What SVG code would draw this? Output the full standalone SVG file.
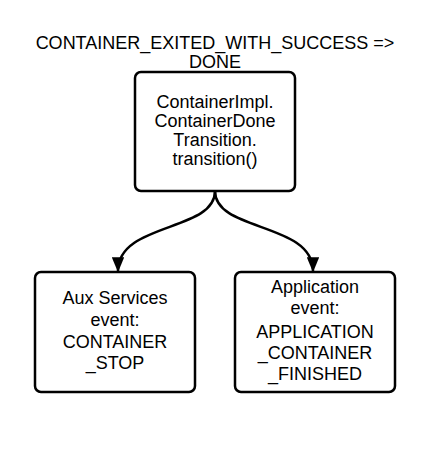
<svg xmlns="http://www.w3.org/2000/svg" width="437" height="449" viewBox="0 0 437 449">
<style>
text{font-family:"Liberation Sans",Arial,sans-serif;font-size:18px;fill:#000;text-anchor:middle}
.box{fill:#fff;stroke:#000;stroke-width:2.5}
.edge{fill:none;stroke:#000;stroke-width:2.5}
</style>
<defs>
<marker id="arr" viewBox="0 0 12 10" refX="11" refY="5" markerWidth="6" markerHeight="5" markerUnits="strokeWidth" orient="auto">
<path d="M0,0 L12,5 L0,10 z" fill="#000"/>
</marker>
</defs>
<rect width="437" height="449" fill="#fff"/>
<g id="title">
<text x="215" y="49">CONTAINER_EXITED_WITH_SUCCESS =&gt;</text>
<text x="215" y="68">DONE</text>
</g>
<g id="edges">
<path class="edge" d="M215,191 C215,232 118,222 118,271" marker-end="url(#arr)"/>
<path class="edge" d="M215,191 C215,232 313,222 313,271" marker-end="url(#arr)"/>
</g>
<g id="n1">
<rect class="box" x="135" y="72" width="160" height="119" rx="6"/>
<text x="215" y="108">ContainerImpl.</text>
<text x="215" y="127">ContainerDone</text>
<text x="215" y="146">Transition.</text>
<text x="215" y="165">transition()</text>
</g>
<g id="n2">
<rect class="box" x="35" y="272" width="160" height="120" rx="6"/>
<text x="115" y="304">Aux Services</text>
<text x="115" y="326">event:</text>
<text x="115" y="348">CONTAINER</text>
<text x="115" y="369">_STOP</text>
</g>
<g id="n3">
<rect class="box" x="235" y="272" width="160" height="120" rx="6"/>
<text x="315" y="293">Application</text>
<text x="315" y="314">event:</text>
<text x="315" y="338">APPLICATION</text>
<text x="315" y="359">_CONTAINER</text>
<text x="315" y="380">_FINISHED</text>
</g>
</svg>
